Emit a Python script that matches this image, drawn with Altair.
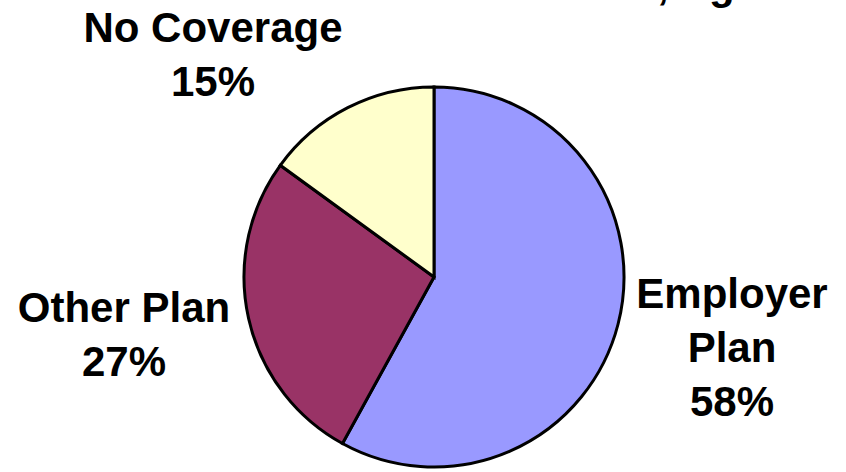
import altair as alt
import pandas as pd

categories = ["Employer Plan", "Other Plan", "No Coverage"]
label_lines = ["Employer\nPlan", "Other Plan", "No Coverage"]
shares = [58, 27, 15]
colors = ["#9999FF", "#993366", "#FFFFCC"]
order = [1, 2, 3]

df = pd.DataFrame({
    "category": categories,
    "label": label_lines,
    "share": shares,
    "order": order,
})

FONT = "Liberation Sans"

pie = alt.Chart(df).mark_arc(
    outerRadius=190, stroke="black", strokeWidth=3
).encode(
    theta=alt.Theta("share:Q", stack=True),
    order=alt.Order("order:Q"),
    color=alt.Color("category:N", scale=alt.Scale(domain=categories, range=colors), legend=None),
    x=alt.value(434),
    y=alt.value(277),
)


def label(cat, x, y):
    return alt.Chart(df).transform_filter(
        alt.datum.category == cat
    ).transform_calculate(
        txt=alt.datum.label + "\n" + alt.datum.share + "%"
    ).mark_text(
        font=FONT, fontSize=42, fontWeight="bold", color="black",
        align="center", baseline="alphabetic", lineBreak="\n", lineHeight=54,
    ).encode(
        text="txt:N", x=alt.value(x), y=alt.value(y)
    )


title_left = alt.Chart(df).transform_filter(alt.datum.order == 1).mark_text(
    font=FONT, fontSize=42, fontWeight="bold", color="black",
    align="right", baseline="alphabetic",
).encode(text=alt.value("Source of Health Insurance"), x=alt.value(657), y=alt.value(-1))

title_right = alt.Chart(df).transform_filter(alt.datum.order == 1).mark_text(
    font=FONT, fontSize=42, fontWeight="bold", color="black",
    align="left", baseline="alphabetic",
).encode(text=alt.value(", Ages 18-64"), x=alt.value(657), y=alt.value(-1))

chart = alt.layer(
    pie,
    label("Employer Plan", 732, 308),
    label("Other Plan", 124, 322),
    label("No Coverage", 213, 42),
    title_left,
    title_right,
).properties(
    width=846, height=472, autosize=alt.AutoSizeParams(type="none"), padding=0
).configure_view(stroke=None)

chart.save("out.html", embed_options={"renderer": "svg", "actions": False})
